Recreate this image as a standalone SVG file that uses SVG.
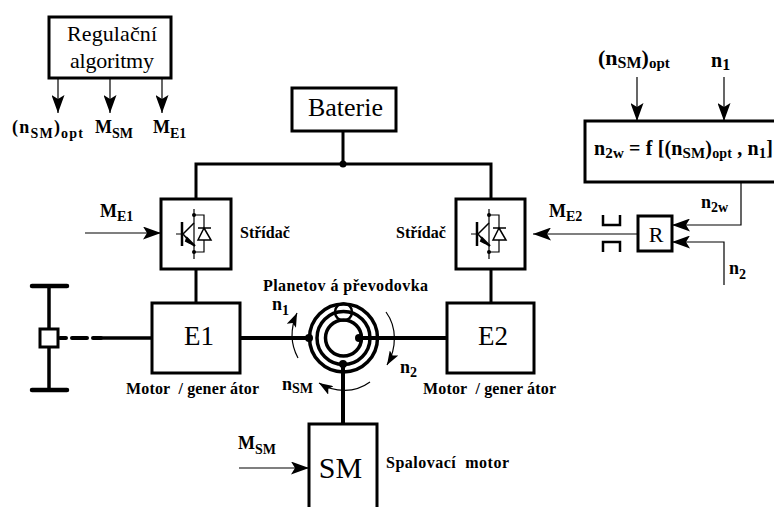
<svg xmlns="http://www.w3.org/2000/svg" width="774" height="507" viewBox="0 0 774 507">
<style>
text{font-family:"Liberation Serif","Times New Roman",serif;fill:#000}
.b{font-weight:bold}
.l{font-size:18px}
.sb{font-size:14px}
.m{font-size:16px;white-space:pre}
.big{font-size:27px}
.box{fill:#fff;stroke:#000;stroke-width:3}
.thin{fill:none;stroke:#000;stroke-width:1.2}
.arr{fill:none;stroke:#000;stroke-width:1.2;marker-end:url(#ah)}
.arc{fill:none;stroke:#000;stroke-width:1.2;marker-end:url(#as)}
.sh{fill:none;stroke:#000;stroke-width:3}
.sh4{fill:none;stroke:#000;stroke-width:4}
.ring{fill:none;stroke:#000;stroke-width:3.5}
</style>
<defs>
<marker id="ah" markerUnits="userSpaceOnUse" markerWidth="18" markerHeight="13" refX="18" refY="6.5" orient="auto"><path d="M0,0L18,6.5L0,13L4,6.5Z" fill="#000"/></marker>
<marker id="as" markerUnits="userSpaceOnUse" markerWidth="14" markerHeight="10" refX="14" refY="5" orient="auto"><path d="M0,0L14,5L0,10L3,5Z" fill="#000"/></marker>
<g id="igbt">
<path class="thin" d="M194,209V259M194,215H204V228M194,252H204V240M176,234H182"/>
<path d="M182,222V246" stroke="#000" stroke-width="2.5"/>
<path d="M183,234L194,223M183,234L190,242" stroke="#000" stroke-width="1.5"/>
<path d="M187,238L195,246L190,243L186,241Z" fill="#000" stroke="#000" stroke-width="2"/>
<path d="M204,228L211,240H198ZM198,228H211" fill="#fff" stroke="#000" stroke-width="1.5"/>
<circle cx="194" cy="215" r="2"/><circle cx="194" cy="252" r="2"/>
</g>
</defs>
<rect width="774" height="507" fill="#fff"/>
<g id="connectors">
<path class="sh" d="M343,131V164M196,199V164H491V199M196,269V303M491,269V303"/>
<path class="sh4" d="M240,338H309M359,338H447M343,364V424"/>
<path class="sh" style="stroke-width:3.5" d="M101,338H152"/>
<path class="sh4" stroke-linecap="round" d="M60,338H66M72,338H87M93,338H101"/>
<circle cx="343" cy="164" r="3.500"/>
<path class="arr" d="M58,78V113"/>
<path class="arr" d="M110,78V113"/>
<path class="arr" d="M162,78V113"/>
<path class="arr" d="M637,77V121"/>
<path class="arr" d="M724,77V121"/>
<path class="arr" d="M741,182V225H672"/>
<path class="arr" d="M724,285V242H672"/>
<path class="arr" d="M637,234H533"/>
<path class="arr" d="M85,233H161"/>
<path class="arr" d="M239,468H309"/>
<path class="arc" d="M298,358C291,345 290,329 297,313"/>
<path class="arc" d="M386,312C397,327 397,348 387,365"/>
<path class="arc" d="M370,382C355,393 335,393 319,383"/>
</g>
<g id="regulacni"><rect class="box" x="49" y="17" width="122" height="61"/>
<text x="67" y="41" textLength="90" style="font-size:22px">Regulační</text>
<text x="70" y="68" textLength="84" style="font-size:22px">algoritmy</text></g>
<g id="baterie"><rect class="box" x="292" y="88" width="104" height="43"/><text x="345.500" y="116" text-anchor="middle" style="font-size:26px">Baterie</text></g>
<g id="strid1"><rect class="box" x="161" y="199" width="70" height="70"/><use href="#igbt"/></g>
<g id="strid2"><rect class="box" x="456" y="199" width="69" height="70"/><use href="#igbt" x="295"/></g>
<g id="e1"><rect class="box" x="152" y="303" width="88" height="70"/><text x="199" y="345" text-anchor="middle" class="big">E1</text></g>
<g id="e2"><rect class="box" x="447" y="303" width="87" height="70"/><text x="493" y="345" text-anchor="middle" class="big">E2</text></g>
<g id="sm"><path d="M309,507V424H377V507" fill="#fff" stroke="#000" stroke-width="3"/><text x="340.500" y="478" text-anchor="middle" style="font-size:30px">SM</text></g>
<g id="planet">
<circle class="ring" cx="343.500" cy="338" r="34"/><circle class="ring" cx="343.500" cy="338" r="26.500"/><circle class="ring" cx="343.500" cy="338" r="18"/>
<circle cx="343.500" cy="312" r="8.500" fill="none" stroke="#000" stroke-width="2.500"/>
<circle cx="309" cy="338" r="4"/><circle cx="359" cy="338" r="4"/><circle cx="343" cy="364" r="4"/>
</g>
<g id="wheel"><path d="M32,286H67M32,390H67" stroke="#000" stroke-width="4.500" stroke-linecap="round"/><path d="M49,286V390" stroke="#000" stroke-width="3.500"/>
<rect x="40" y="329" width="18" height="18" fill="#fff" stroke="#000" stroke-width="3"/></g>
<g id="r"><rect class="box" x="638" y="216" width="34" height="35"/><text x="656" y="242" text-anchor="middle" style="font-size:22px">R</text>
<path d="M603,215V225H620V215M603,252V242H620V252" fill="none" stroke="#000" stroke-width="2.500"/></g>
<g id="f"><path d="M774,121H585V182H774" fill="#fff" stroke="#000" stroke-width="3"/></g>
<g id="labels">
<text class="b l" x="12" y="133" textLength="71">(n<tspan dy="5" class="sb">SM</tspan><tspan dy="-5">)</tspan><tspan dy="5" class="sb">opt</tspan></text>
<text class="b l" x="95" y="133">M<tspan dy="5" class="sb">SM</tspan></text>
<text class="b l" x="153" y="133">M<tspan dy="5" class="sb">E1</tspan></text>
<text class="b" x="598" y="65" style="font-size:22px">(n<tspan dy="3" style="font-size:16px">SM</tspan><tspan dy="-3">)</tspan><tspan dy="3" style="font-size:15px">opt</tspan></text>
<text class="b" x="711" y="67" style="font-size:20px">n<tspan dy="3" style="font-size:16px">1</tspan></text>
<text class="b" x="594" y="155" textLength="179" style="font-size:20px">n<tspan dy="3" style="font-size:15px">2w</tspan><tspan dy="-3"> = f [(n</tspan><tspan dy="3" style="font-size:15px">SM</tspan><tspan dy="-3">)</tspan><tspan dy="3" style="font-size:14px">opt</tspan><tspan dy="-3"> , n</tspan><tspan dy="3" style="font-size:15px">1</tspan><tspan dy="-3">]</tspan></text>
<text class="b l" x="701" y="208">n<tspan dy="4" class="sb">2w</tspan></text>
<text class="b l" x="729" y="274">n<tspan dy="5" class="sb">2</tspan></text>
<text class="b l" x="549" y="217">M<tspan dy="4" class="sb">E2</tspan></text>
<text class="b l" x="100" y="217">M<tspan dy="4" class="sb">E1</tspan></text>
<text class="b l" x="238" y="449">M<tspan dy="5" class="sb">SM</tspan></text>
<text class="b m" x="240" y="238">Střídač</text>
<text class="b m" x="396" y="238">Střídač</text>
<text class="b m" x="263" y="291" textLength="165">Planetov á převodovka</text>
<text class="b l" x="272" y="310">n<tspan dy="5" class="sb">1</tspan></text>
<text class="b l" x="400" y="373">n<tspan dy="4" class="sb">2</tspan></text>
<text class="b l" x="282" y="390">n<tspan dy="3" class="sb">SM</tspan></text>
<text class="b m" x="126" y="394" textLength="133">Motor  / gener átor</text>
<text class="b m" x="423" y="394" textLength="133">Motor  / gener átor</text>
<text class="b m" x="386" y="468" textLength="123">Spalovací  motor</text>
</g>
</svg>
